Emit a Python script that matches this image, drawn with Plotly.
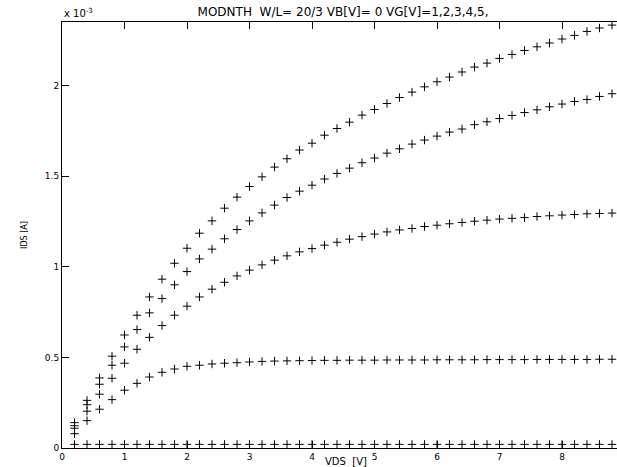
import plotly.graph_objects as go

# Drain-voltage sweep, 0.2 V steps
vds = [round(0.2 * k, 1) for k in range(1, 45)]

# Drain current in units of 1e-3 A, one list per gate voltage
ids_vg1 = [0.020, 0.020, 0.020, 0.020, 0.020, 0.020, 0.020, 0.020, 0.020, 0.020, 0.020,
           0.020, 0.020, 0.020, 0.020, 0.020, 0.020, 0.020, 0.020, 0.020, 0.020, 0.020,
           0.020, 0.020, 0.020, 0.020, 0.020, 0.020, 0.020, 0.020, 0.020, 0.020, 0.020,
           0.020, 0.020, 0.020, 0.020, 0.020, 0.020, 0.020, 0.020, 0.020, 0.020, 0.020]
ids_vg2 = [0.079, 0.151, 0.214, 0.267, 0.319, 0.357, 0.392, 0.418, 0.436, 0.451, 0.457,
           0.464, 0.468, 0.471, 0.475, 0.478, 0.480, 0.481, 0.482, 0.483, 0.484, 0.484,
           0.485, 0.485, 0.485, 0.486, 0.486, 0.486, 0.486, 0.487, 0.487, 0.487, 0.487,
           0.488, 0.488, 0.488, 0.488, 0.489, 0.489, 0.489, 0.489, 0.489, 0.490, 0.490]
ids_vg3 = [0.109, 0.203, 0.297, 0.385, 0.468, 0.545, 0.611, 0.676, 0.733, 0.783, 0.834,
           0.877, 0.915, 0.950, 0.982, 1.011, 1.037, 1.061, 1.083, 1.101, 1.120, 1.136,
           1.153, 1.167, 1.181, 1.193, 1.204, 1.212, 1.223, 1.230, 1.238, 1.245, 1.252,
           1.258, 1.264, 1.268, 1.272, 1.278, 1.282, 1.286, 1.289, 1.293, 1.295, 1.297]
ids_vg4 = [0.123, 0.239, 0.352, 0.457, 0.558, 0.654, 0.746, 0.825, 0.901, 0.974, 1.044,
           1.098, 1.155, 1.206, 1.254, 1.298, 1.341, 1.383, 1.418, 1.451, 1.485, 1.516,
           1.545, 1.575, 1.601, 1.628, 1.652, 1.678, 1.700, 1.722, 1.744, 1.761, 1.785,
           1.801, 1.819, 1.836, 1.852, 1.867, 1.884, 1.899, 1.913, 1.924, 1.941, 1.956]
ids_vg5 = [0.140, 0.263, 0.387, 0.507, 0.624, 0.733, 0.834, 0.932, 1.020, 1.103, 1.186,
           1.254, 1.324, 1.385, 1.444, 1.497, 1.551, 1.597, 1.645, 1.683, 1.727, 1.764,
           1.799, 1.838, 1.869, 1.902, 1.935, 1.965, 1.994, 2.022, 2.048, 2.076, 2.103,
           2.125, 2.151, 2.173, 2.195, 2.215, 2.236, 2.258, 2.278, 2.300, 2.319, 2.335]

curves = [ids_vg1, ids_vg2, ids_vg3, ids_vg4, ids_vg5]

x_ticks = [0, 1, 2, 3, 4, 5, 6, 7, 8]
y_ticks = [0, 0.5, 1, 1.5, 2]
y_tick_text = ["0", "0.5", "1", "1.5", "2"]

FONT = "DejaVu Sans, Verdana, sans-serif"

fig = go.Figure()
for ids in curves:
    fig.add_trace(go.Scatter(
        x=vds, y=ids, mode="markers",
        marker=dict(symbol="cross-thin", size=6, color="black",
                    line=dict(color="black", width=1)),
        showlegend=False, hoverinfo="skip",
    ))

axis_common = dict(
    showgrid=False, zeroline=False,
    showline=True, linecolor="black", linewidth=1,
    ticks="inside", ticklen=7, tickwidth=1, tickcolor="black",
    tickfont=dict(family=FONT, size=9, color="black"),
)

fig.update_layout(
    width=617, height=467,
    margin=dict(l=62, r=0, t=22, b=19),
    paper_bgcolor="white", plot_bgcolor="white",
    font=dict(family=FONT, color="black"),
    title=dict(
        text="MODNTH\u00a0\u00a0W/L=\u00a020/3 VB[V]=\u00a00 VG[V]=1,2,3,4,5,",
        x=(343 - 62) / 555, xref="paper", xanchor="center",
        y=1 - 12 / 467, yref="container", yanchor="middle",
        font=dict(family=FONT, size=12, color="black"),
    ),
    xaxis=dict(
        range=[0, 8.88], tickvals=x_ticks, ticktext=[str(t) for t in x_ticks],
        mirror="ticks",
        **axis_common,
    ),
    yaxis=dict(
        range=[0, 2.352], tickvals=y_ticks, ticktext=y_tick_text,
        mirror=False,
        title=dict(text="IDS [A]", standoff=16,
                   font=dict(family=FONT, size=8, color="black")),
        **axis_common,
    ),
    annotations=[
        dict(
            text="x 10<sup>-3</sup>", xref="paper", yref="paper",
            x=0, y=1, xanchor="left", yanchor="bottom", yshift=1,
            showarrow=False, font=dict(family=FONT, size=10, color="black"),
        ),
        dict(
            text="VDS\u00a0\u00a0[V]", xref="paper", yref="paper",
            x=(346 - 62) / 555, y=0, xanchor="center", yanchor="middle",
            yshift=-13, showarrow=False,
            font=dict(family=FONT, size=10, color="black"),
        ),
    ],
)

fig.write_html("out.html")
